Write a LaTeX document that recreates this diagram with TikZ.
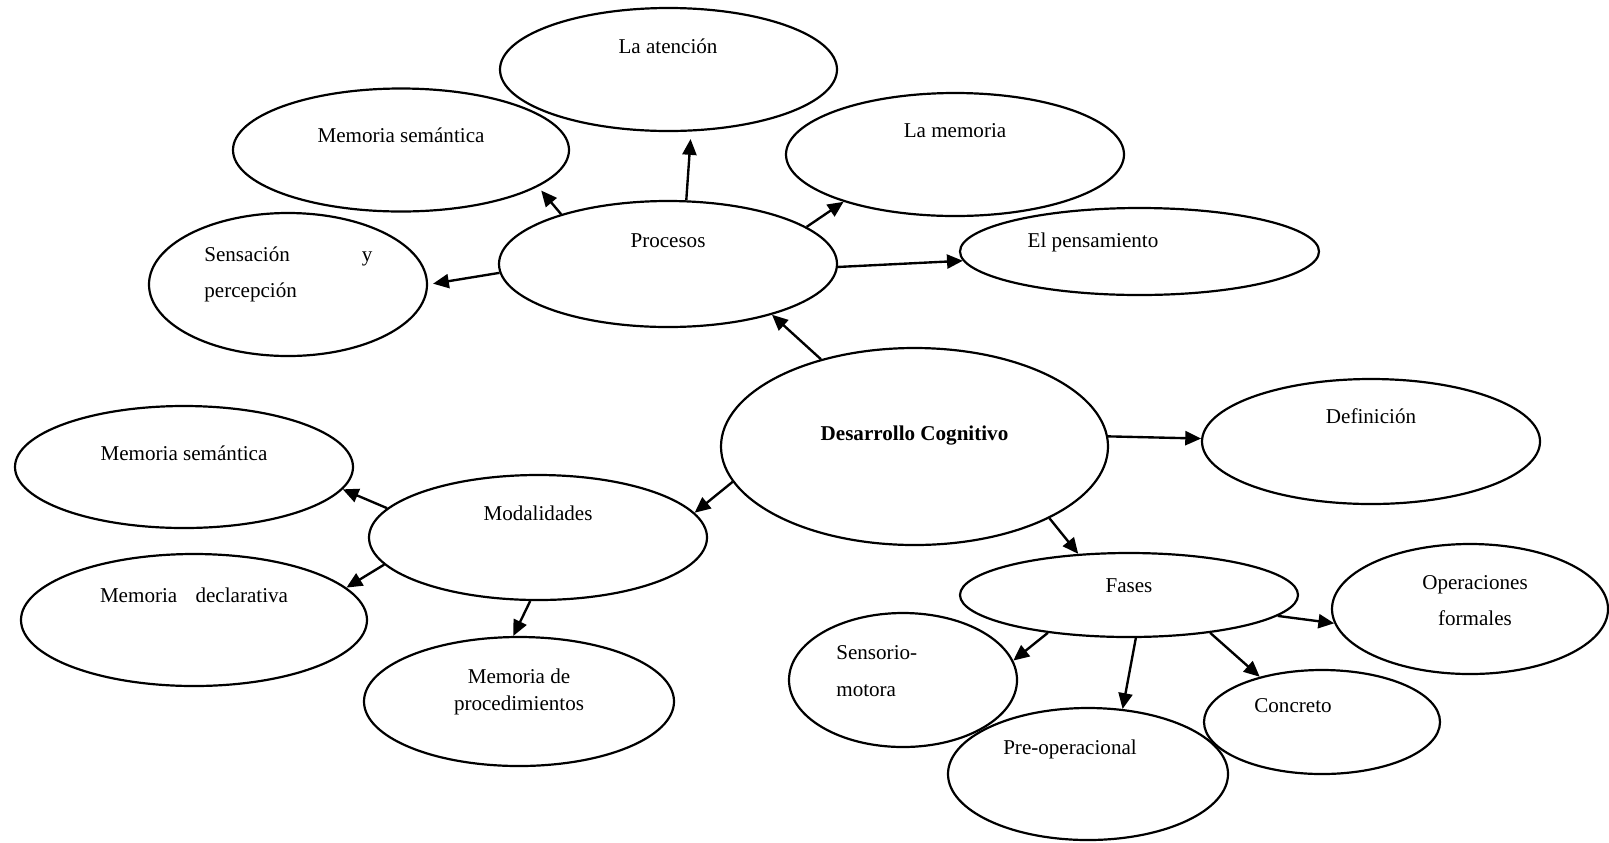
\documentclass[tikz,border=0pt]{standalone}
\usepackage{fontspec}
\setmainfont{Liberation Serif}
\usetikzlibrary{arrows.meta,shapes.geometric}

\tikzset{
  bubble/.style={ellipse,draw,black,line width=1.25pt,inner sep=0pt},
  lbl/.style={inner sep=0pt,anchor=base,font=\fontsize{12}{14}\selectfont},
  lbltwo/.style={lbl,font=\fontsize{12}{20}\selectfont},
  arr/.style={-{Triangle[length=9pt,width=8pt]},black,line width=1.35pt}
}

\begin{document}
\begin{tikzpicture}[x=0.2mm,y=-0.2mm]
\useasboundingbox (0,0) rectangle (1609,842);

%draw ellipses
\node[bubble,minimum width=67.4mm,minimum height=24.6mm] (aten) at (668.5,69.5) {};
\node[bubble,minimum width=67.2mm,minimum height=24.6mm] (msemA) at (401,150) {};
\node[bubble,minimum width=67.6mm,minimum height=24.6mm] (memo) at (955,154.5) {};
\node[bubble,minimum width=55.6mm,minimum height=28.6mm] (sens) at (288,284.5) {};
\node[bubble,minimum width=71.8mm,minimum height=17.4mm] (pens) at (1139.5,251.5) {};
\node[bubble,minimum width=67.6mm,minimum height=25.2mm] (proc) at (668,264) {};
\node[bubble,minimum width=77.4mm,minimum height=39.4mm] (des) at (914.5,446.5) {};
\node[bubble,minimum width=67.6mm,minimum height=25mm] (def) at (1371,441.5) {};
\node[bubble,minimum width=67.6mm,minimum height=24.4mm] (msemB) at (184,467) {};
\node[bubble,minimum width=67.6mm,minimum height=25mm] (mod) at (538,537.5) {};
\node[bubble,minimum width=69.2mm,minimum height=26.4mm] (decl) at (194,620) {};
\node[bubble,minimum width=62mm,minimum height=25.8mm] (proced) at (519,701.5) {};
\node[bubble,minimum width=67.6mm,minimum height=16.8mm] (fases) at (1129,595) {};
\node[bubble,minimum width=55.2mm,minimum height=26mm] (opf) at (1470,609) {};
\node[bubble,minimum width=45.6mm,minimum height=26.8mm] (senso) at (903,680) {};
\node[bubble,minimum width=56mm,minimum height=26.4mm] (preop) at (1088,774) {};
\node[bubble,minimum width=47.2mm,minimum height=20.8mm] (conc) at (1322,722) {};

%label ellipses
\node[lbl] (atenT) at (668,53) {La atención};
\node[lbl] (msemAT) at (401,142) {Memoria semántica};
\node[lbl] (memoT) at (955,137) {La memoria};
\node[lbltwo,anchor=base west,align=left] (sensT) at (204,297) {\makebox[33.6mm][s]{Sensación y}\\percepción};
\node[lbl] (pensT) at (1093,247) {El pensamiento};
\node[lbl] (procT) at (668,247) {Procesos};
\node[lbl] (desT) at (914.5,440) {\textbf{Desarrollo Cognitivo}};
\node[lbl] (defT) at (1371,423) {Definición};
\node[lbl] (msemBT) at (184,460) {Memoria semántica};
\node[lbl] (modT) at (538,520) {Modalidades};
\node[lbl] (declT) at (194,602) {\makebox[37.6mm][s]{Memoria declarativa}};
\node[lbl,font=\fontsize{12}{15.3}\selectfont,align=center] (procedT) at (519,710) {Memoria de\\procedimientos};
\node[lbl] (fasesT) at (1129,592) {Fases};
\node[lbltwo,align=center] (opfT) at (1475,625) {Operaciones\\formales};
\node[lbl,font=\fontsize{12}{21}\selectfont,anchor=base west,align=left] (sensoT) at (836,696) {Sensorio-\\motora};
\node[lbl] (preopT) at (1070,754) {Pre-operacional};
\node[lbl] (concT) at (1293,712) {Concreto};

%draw arrows
\foreach \a/\b/\s/\e/\g in {proc/aten/74/-70.6/1.5, proc/msemA/155/-15/1, proc/memo/15.8/-157.6/0,
    proc/sens/183.1/0.2/1, proc/pens/-1.7/183.4/0, des/proc/137.7/-26.4/0,
    des/def/3.7/179.5/0, des/mod/-169/9/0, des/fases/-28.6/141.3/0,
    mod/msemB/169.6/-8.9/0, mod/decl/190.9/12.2/0, mod/proced/-97.8/95.8/0,
    fases/senso/-155.4/10.2/0, fases/preop/-81.2/62/0, fases/conc/-25.5/144.5/0,
    fases/opf/-8.1/186.3/0}
    {
    \draw[arr,shorten >=\g mm] (\a.\s)--(\b.\e);
    }

\end{tikzpicture}
\end{document}
